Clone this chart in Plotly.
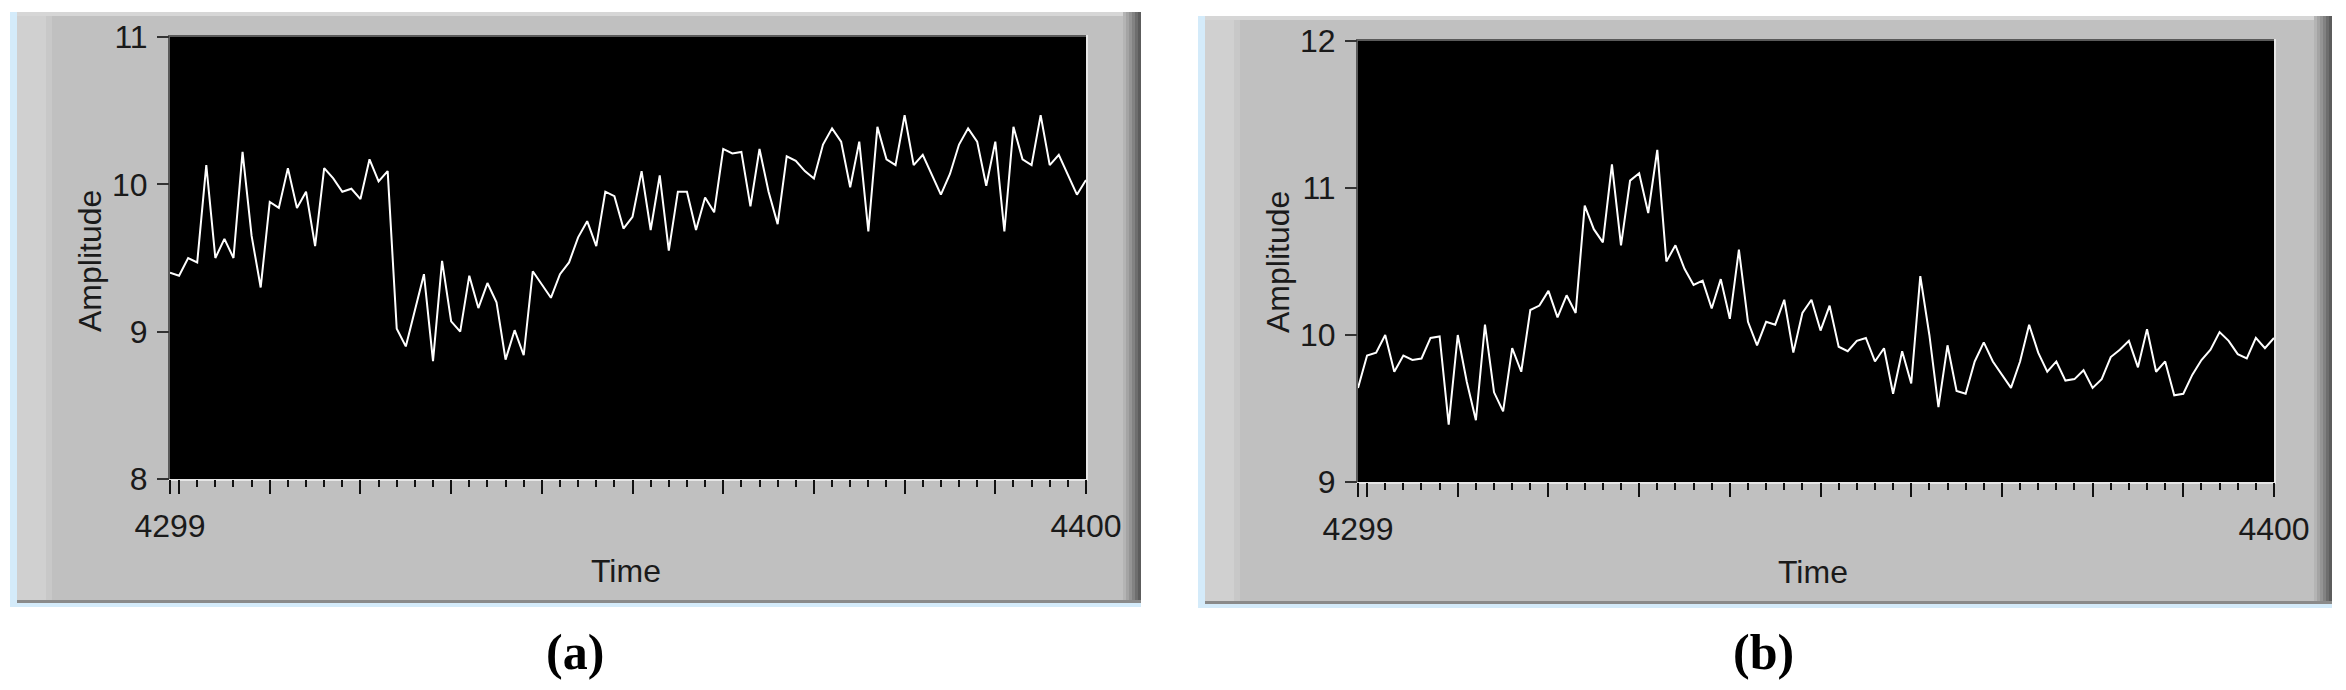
import plotly.graph_objects as go

W, H = 2346, 690

# time axis (samples 4299..4400)
time = list(range(4299, 4401))

# panel (a) amplitude
amp_a = [9.40, 9.38, 9.50, 9.47, 10.13, 9.50, 9.63, 9.50, 10.22, 9.65,
         9.30, 9.88, 9.84, 10.11, 9.84, 9.95, 9.58, 10.11, 10.04, 9.95,
         9.97, 9.90, 10.17, 10.02, 10.09, 9.02, 8.90, 9.15, 9.39, 8.80,
         9.48, 9.07, 9.00, 9.38, 9.16, 9.33, 9.20, 8.81, 9.01, 8.84,
         9.41, 9.32, 9.23, 9.39, 9.47, 9.64, 9.75, 9.58, 9.95, 9.92,
         9.70, 9.78, 10.09, 9.69, 10.06, 9.55, 9.95, 9.95, 9.69, 9.91,
         9.81, 10.24, 10.21, 10.22, 9.85, 10.24, 9.95, 9.73, 10.19, 10.16,
         10.09, 10.04, 10.27, 10.38, 10.29, 9.98, 10.29, 9.68, 10.39, 10.17,
         10.13, 10.47, 10.13, 10.20, 10.07, 9.93, 10.07, 10.27, 10.38, 10.29,
         9.99, 10.29, 9.68, 10.39, 10.17, 10.13, 10.47, 10.13, 10.20, 10.06,
         9.93, 10.03]

# panel (b) amplitude
amp_b = [9.64, 9.86, 9.88, 10.00, 9.75, 9.86, 9.83, 9.84, 9.98, 9.99,
         9.39, 10.00, 9.68, 9.42, 10.07, 9.61, 9.48, 9.91, 9.75, 10.17,
         10.20, 10.30, 10.12, 10.27, 10.15, 10.88, 10.72, 10.63, 11.16, 10.61,
         11.05, 11.10, 10.83, 11.26, 10.50, 10.61, 10.45, 10.34, 10.37, 10.18,
         10.38, 10.11, 10.58, 10.09, 9.93, 10.09, 10.07, 10.24, 9.88, 10.15,
         10.24, 10.03, 10.20, 9.92, 9.89, 9.96, 9.98, 9.82, 9.91, 9.60,
         9.89, 9.67, 10.40, 10.00, 9.51, 9.93, 9.62, 9.60, 9.82, 9.95,
         9.82, 9.73, 9.64, 9.82, 10.07, 9.88, 9.75, 9.82, 9.69, 9.70,
         9.76, 9.64, 9.70, 9.85, 9.90, 9.96, 9.78, 10.04, 9.75, 9.82,
         9.59, 9.60, 9.73, 9.83, 9.90, 10.02, 9.96, 9.87, 9.84, 9.98,
         9.91, 9.98]

yrange_a = [8, 11]
yrange_b = [9, 12]
xticks_major = [4299, 4300] + list(range(4310, 4401, 10))
xticks_text = ["4299"] + [""] * (len(xticks_major) - 2) + ["4400"]


def px(x):
    return x / W


def py(y):
    return 1 - y / H


fnt = "Liberation Sans"
txt = "#1a1a1a"

fig = go.Figure()
fig.add_trace(go.Scatter(x=time, y=amp_a, mode="lines",
                         line=dict(color="white", width=2), xaxis="x", yaxis="y"))
fig.add_trace(go.Scatter(x=time, y=amp_b, mode="lines",
                         line=dict(color="white", width=2), xaxis="x2", yaxis="y2"))

shapes = []


def rect(x0, y0, x1, y1, color):
    shapes.append(dict(type="rect", xref="paper", yref="paper",
                       x0=px(x0), x1=px(x1), y0=py(y1), y1=py(y0),
                       fillcolor=color, line=dict(width=0), layer="below"))


# LabVIEW-like grey panels
for (L, T, R, B, pl, pt, pr, pb) in [(10, 12, 1141, 607, 170, 37, 1086, 479),
                                      (1198, 16, 2332, 608, 1358, 41, 2274, 482)]:
    rect(L, T, R, B, "#d4ebfa")
    rect(L + 7, T, R, B - 4, "#c0c0c0")
    rect(L + 7, T, L + 36, B - 4, "#d0d0d0")
    rect(L + 36, T, L + 42, B - 4, "#c8c8c8")
    rect(L + 7, T, R, T + 4, "#d6d6d6")
    grads = ["#b4b4b4", "#a4a4a4", "#949494", "#828282", "#6e6e6e", "#5c5c5c"]
    for k, c in enumerate(grads):
        rect(R - 18 + 3 * k, T, R - 15 + 3 * k, B - 4, c)
    rect(L + 7, B - 7, R, B - 4, "#8a8a8a")
    # black plot area with inset frame
    rect(pl - 2, pt - 2, pr + 2, pb + 2, "#e6e6e6")
    rect(pl - 2, pt - 2, pr, pb, "#5a5a5a")
    rect(pl, pt, pr, pb, "#000000")

xa = dict(range=[4299, 4400], tickvals=xticks_major, ticktext=xticks_text,
          ticks="outside", ticklen=14, tickwidth=2, tickcolor="#111",
          minor=dict(ticks="outside", ticklen=7, tickwidth=2, tickcolor="#111",
                     dtick=2, tick0=4300, showgrid=False),
          showgrid=False, zeroline=False, showline=False, automargin=False,
          tickfont=dict(family=fnt, size=32, color=txt), ticklabelstandoff=5,
          fixedrange=True)
ya = dict(ticks="outside", ticklen=12, tickwidth=2, tickcolor="#333",
          showgrid=False, zeroline=False, showline=False, dtick=1, automargin=False,
          tickfont=dict(family=fnt, size=32, color=txt), ticklabelstandoff=3,
          fixedrange=True)

fig.update_layout(
    width=W, height=H, autosize=False,
    margin=dict(l=0, r=0, t=0, b=0, pad=0),
    paper_bgcolor="white", plot_bgcolor="black",
    showlegend=False,
    xaxis=dict(xa, domain=[px(170), px(1086)], anchor="y"),
    yaxis=dict(ya, domain=[py(479), py(37)], range=yrange_a, anchor="x"),
    xaxis2=dict(xa, domain=[px(1358), px(2274)], anchor="y2"),
    yaxis2=dict(ya, domain=[py(482), py(41)], range=yrange_b, anchor="x2"),
    shapes=shapes,
)

ann = []
for (ax, ay, tx, ty, cap, cx) in [(90, 261, 626, 571, "(a)", 575),
                                   (1278, 262, 1813, 572, "(b)", 1764)]:
    ann.append(dict(x=px(ax), y=py(ay), xref="paper", yref="paper", text="Amplitude",
                    textangle=-90, showarrow=False, xanchor="center", yanchor="middle",
                    font=dict(family=fnt, size=32, color=txt)))
    ann.append(dict(x=px(tx), y=py(ty), xref="paper", yref="paper", text="Time",
                    showarrow=False, xanchor="center", yanchor="middle",
                    font=dict(family=fnt, size=32, color=txt)))
    ann.append(dict(x=px(cx), y=py(652), xref="paper", yref="paper",
                    text="<b>" + cap + "</b>", showarrow=False,
                    xanchor="center", yanchor="middle",
                    font=dict(family="Liberation Serif", size=50, color="black")))
fig.update_layout(annotations=ann)

fig.write_html("out.html", config={"displayModeBar": False},
               post_script="document.body.style.margin='0';")
